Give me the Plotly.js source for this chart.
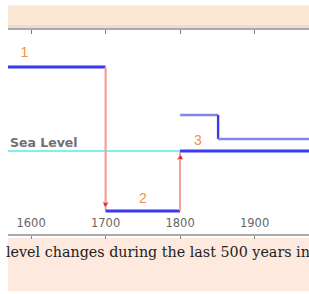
<!DOCTYPE html>
<html><head><meta charset="utf-8">
<script src="https://cdn.plot.ly/plotly-3.0.1.min.js"></script>
<style>html,body{margin:0;padding:0;background:#fff}#c{width:309px;height:294px}</style>
</head><body><div id="c"></div>
<script>
// Data (years, relative sea level in arbitrary units; 0 = sea level)
const tickYears = [1600, 1700, 1800, 1900];
const tickLabels = ['1600', '1700', '1800', '1900'];
const stepYears = [1560, 1700, 1700, 1800, 1800, 1980];
const stepLevels = [2.8, 2.8, -2.0, -2.0, 0.0, 0.0];
const altYears = [1800, 1851, 1851, 1980];
const altLevels = [1.2, 1.2, 0.4, 0.4];
const seaYears = [1560, 1800];
const seaLevels = [0, 0];
const phaseLabels = ['1', '2', '3'];
const phaseYears = [1591, 1750, 1824];
const phaseLevels = [3.25, -1.63, 0.3];
const caption = 'level changes during the last 500 years in';

const traces = [
  {x: seaYears, y: seaLevels, mode: 'lines', line: {color: '#7ff0f0', width: 1.8}, hoverinfo: 'skip'},
  {x: stepYears.slice(0,2), y: stepLevels.slice(0,2), mode: 'lines', line: {color: '#3a3aee', width: 2.8}},
  {x: stepYears.slice(1,3), y: stepLevels.slice(1,3), mode: 'lines', line: {color: '#f2a0a0', width: 1.8}},
  {x: stepYears.slice(2,4), y: stepLevels.slice(2,4), mode: 'lines', line: {color: '#3a3aee', width: 2.8}},
  {x: stepYears.slice(3,5), y: stepLevels.slice(3,5), mode: 'lines', line: {color: '#f2a0a0', width: 1.8}},
  {x: stepYears.slice(4,6), y: stepLevels.slice(4,6), mode: 'lines', line: {color: '#3a3aee', width: 2.8}},
  {x: altYears.slice(0,2), y: altLevels.slice(0,2), mode: 'lines', line: {color: '#8484ee', width: 2.4}},
  {x: altYears.slice(1,3), y: altLevels.slice(1,3), mode: 'lines', line: {color: '#3a3aee', width: 2.4}},
  {x: altYears.slice(2,4), y: altLevels.slice(2,4), mode: 'lines', line: {color: '#8484ee', width: 2.4}},
  {x: phaseYears, y: phaseLevels, mode: 'text', text: phaseLabels, textfont: {family: 'Arial, Liberation Sans', size: 14, color: '#f39040'}, textposition: 'middle center'},
  {x: [1600], y: [0], xaxis: 'x2', mode: 'markers', marker: {opacity: 0}, hoverinfo: 'skip'}
];

const annotations = [
  {x: stepYears[2], y: stepLevels[2] + 0.1, ax: stepYears[1], ay: stepLevels[1], xref: 'x', yref: 'y', axref: 'x', ayref: 'y',
   showarrow: true, arrowhead: 2, arrowsize: 0.7, arrowwidth: 1.8, arrowcolor: '#f2a0a0', text: ''},
  {x: stepYears[4], y: stepLevels[4] - 0.08, ax: stepYears[3], ay: stepLevels[3], xref: 'x', yref: 'y', axref: 'x', ayref: 'y',
   showarrow: true, arrowhead: 2, arrowsize: 0.7, arrowwidth: 1.8, arrowcolor: '#f2a0a0', text: ''},
  {x: stepYears[2], y: stepLevels[2] + 0.2, xref: 'x', yref: 'y', showarrow: false, text: '▼', font: {size: 7, color: '#e02030'}},
  {x: stepYears[4], y: stepLevels[4] - 0.2, xref: 'x', yref: 'y', showarrow: false, text: '▲', font: {size: 7, color: '#e02030'}},
  {x: 0.0, y: 0.0, xref: 'paper', yref: 'y', xanchor: 'left', yanchor: 'bottom', yshift: -1, showarrow: false,
   text: '<b>Sea Level</b>', font: {family: 'DejaVu Sans', size: 12.5, color: '#707070'}},
  {x: -0.014, y: -0.09, xref: 'paper', yref: 'paper', xanchor: 'left', yanchor: 'middle', showarrow: false,
   text: caption, font: {family: 'DejaVu Serif', size: 14.3, color: '#222'}}
];

const shapes = [
  {type: 'rect', xref: 'paper', yref: 'paper', x0: 0, x1: 1, y0: 1.12, y1: 1.0245, fillcolor: '#fde8d6', line: {width: 0}, layer: 'below'},
  {type: 'rect', xref: 'paper', yref: 'paper', x0: 0, x1: 1, y0: 1.0245, y1: 1.005, fillcolor: '#e9ddd2', line: {width: 0}, layer: 'below'},
  {type: 'rect', xref: 'paper', yref: 'paper', x0: 0, x1: 1, y0: -0.02, y1: -0.28, fillcolor: '#fde9dd', line: {width: 0}, layer: 'below'}
];

const layout = {
  width: 309, height: 294,
  margin: {l: 8, r: 0, t: 30, b: 60},
  paper_bgcolor: '#ffffff', plot_bgcolor: '#ffffff',
  showlegend: false,
  xaxis: {range: [1569, 1973], tickvals: tickYears, ticktext: tickLabels, showgrid: false, zeroline: false,
          showline: true, linecolor: '#aaaaaa', linewidth: 1.5, ticks: 'outside', ticklen: 3, tickcolor: '#888',
          ticklabelposition: 'inside', ticklabelstandoff: 4,
          tickfont: {family: 'DejaVu Sans', size: 11.5, color: '#666'}},
  xaxis2: {range: [1569, 1973], overlaying: 'x', side: 'top', tickvals: tickYears, showticklabels: false,
           showgrid: false, zeroline: false, showline: true, linecolor: '#aaaaaa', linewidth: 2,
           ticks: 'inside', ticklen: 4, tickcolor: '#777'},
  yaxis: {range: [-2.767, 4.033], visible: false, showgrid: false, zeroline: false},
  annotations: annotations,
  shapes: shapes
};

Plotly.newPlot('c', traces, layout, {staticPlot: true, displayModeBar: false});
</script></body></html>
